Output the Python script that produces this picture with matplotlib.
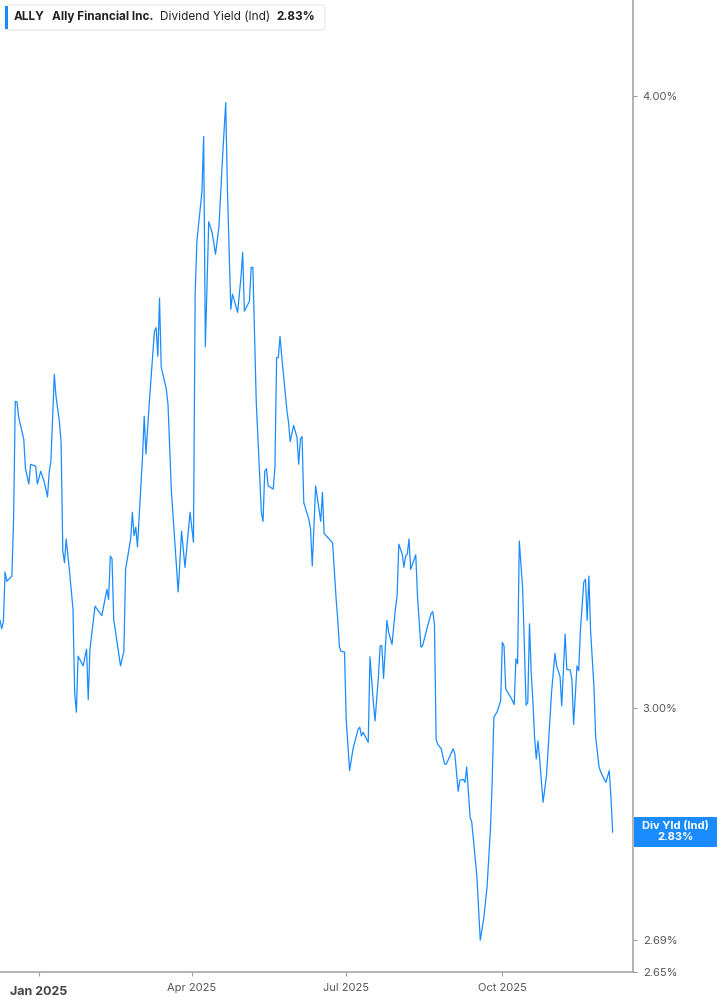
# ALLY - dividend yield (Ind), linha diária com eixo log à direita

import matplotlib
matplotlib.use('Agg')
import matplotlib.pyplot as plt
import matplotlib.dates as mdates
from matplotlib.patches import FancyBboxPatch, Rectangle
from matplotlib.ticker import FixedLocator, NullLocator
import pandas as pd

plt.rcParams['font.family'] = ['Inter', 'DejaVu Sans']

ticker = 'ALLY'
company = 'Ally Financial Inc.'
metric = 'Dividend Yield (Ind)'
metric_short = 'Div Yld (Ind)'

dates = [
    '2024-12-09', '2024-12-10', '2024-12-11', '2024-12-12', '2024-12-13', '2024-12-16', '2024-12-17',
    '2024-12-18', '2024-12-19', '2024-12-20', '2024-12-23', '2024-12-24', '2024-12-26', '2024-12-27',
    '2024-12-30', '2024-12-31', '2025-01-02', '2025-01-04', '2025-01-06', '2025-01-07', '2025-01-08',
    '2025-01-10', '2025-01-11', '2025-01-13', '2025-01-14', '2025-01-15', '2025-01-16', '2025-01-17',
    '2025-01-19', '2025-01-21', '2025-01-22', '2025-01-23', '2025-01-24', '2025-01-27', '2025-01-29',
    '2025-01-30', '2025-01-31', '2025-02-03', '2025-02-07', '2025-02-10', '2025-02-11', '2025-02-12',
    '2025-02-13', '2025-02-14', '2025-02-18', '2025-02-20', '2025-02-21', '2025-02-24', '2025-02-25',
    '2025-02-26', '2025-02-27', '2025-02-28', '2025-03-03', '2025-03-04', '2025-03-05', '2025-03-07',
    '2025-03-10', '2025-03-11', '2025-03-12', '2025-03-13', '2025-03-14', '2025-03-17', '2025-03-18',
    '2025-03-20', '2025-03-24', '2025-03-26', '2025-03-28', '2025-03-31', '2025-04-02', '2025-04-03',
    '2025-04-04', '2025-04-07', '2025-04-08', '2025-04-09', '2025-04-11', '2025-04-13', '2025-04-15',
    '2025-04-17', '2025-04-19', '2025-04-21', '2025-04-22', '2025-04-24', '2025-04-25', '2025-04-28',
    '2025-04-30', '2025-05-01', '2025-05-02', '2025-05-05', '2025-05-06', '2025-05-07', '2025-05-09',
    '2025-05-12', '2025-05-13', '2025-05-14', '2025-05-15', '2025-05-16', '2025-05-19', '2025-05-20',
    '2025-05-21', '2025-05-22', '2025-05-23', '2025-05-24', '2025-05-27', '2025-05-28', '2025-05-29',
    '2025-05-31', '2025-06-02', '2025-06-03', '2025-06-04', '2025-06-05', '2025-06-06', '2025-06-09',
    '2025-06-10', '2025-06-11', '2025-06-13', '2025-06-16', '2025-06-17', '2025-06-18', '2025-06-21',
    '2025-06-23', '2025-06-25', '2025-06-26', '2025-06-27', '2025-06-28', '2025-06-30', '2025-07-01',
    '2025-07-03', '2025-07-05', '2025-07-08', '2025-07-09', '2025-07-10', '2025-07-11', '2025-07-14',
    '2025-07-15', '2025-07-17', '2025-07-18', '2025-07-20', '2025-07-21', '2025-07-22', '2025-07-23',
    '2025-07-25', '2025-07-26', '2025-07-28', '2025-07-30', '2025-07-31', '2025-08-01', '2025-08-03',
    '2025-08-04', '2025-08-05', '2025-08-06', '2025-08-07', '2025-08-08', '2025-08-11', '2025-08-12',
    '2025-08-14', '2025-08-15', '2025-08-18', '2025-08-20', '2025-08-21', '2025-08-22', '2025-08-23',
    '2025-08-24', '2025-08-26', '2025-08-28', '2025-08-29', '2025-09-02', '2025-09-03', '2025-09-05',
    '2025-09-06', '2025-09-08', '2025-09-09', '2025-09-10', '2025-09-12', '2025-09-13', '2025-09-16',
    '2025-09-18', '2025-09-20', '2025-09-22', '2025-09-24', '2025-09-25', '2025-09-26', '2025-09-28',
    '2025-09-30', '2025-10-01', '2025-10-02', '2025-10-03', '2025-10-06', '2025-10-08', '2025-10-09',
    '2025-10-10', '2025-10-11', '2025-10-13', '2025-10-15', '2025-10-16', '2025-10-17', '2025-10-18',
    '2025-10-19', '2025-10-20', '2025-10-21', '2025-10-22', '2025-10-23', '2025-10-25', '2025-10-27',
    '2025-10-28', '2025-10-30', '2025-11-01', '2025-11-02', '2025-11-04', '2025-11-05', '2025-11-07',
    '2025-11-08', '2025-11-10', '2025-11-11', '2025-11-12', '2025-11-14', '2025-11-15', '2025-11-16',
    '2025-11-18', '2025-11-19', '2025-11-20', '2025-11-21', '2025-11-22', '2025-11-24', '2025-11-25',
    '2025-11-27', '2025-11-28', '2025-12-01', '2025-12-03', '2025-12-04', '2025-12-05',
]

# yield em %
yield_pct = [
    3.126, 3.114, 3.124, 3.198, 3.184, 3.192, 3.278, 3.465, 3.464, 3.439, 3.404, 3.357, 3.333, 3.364,
    3.361, 3.333, 3.353, 3.337, 3.313, 3.352, 3.369, 3.509, 3.473, 3.432, 3.399, 3.230, 3.212, 3.248,
    3.198, 3.143, 3.022, 2.994, 3.074, 3.060, 3.084, 3.012, 3.084, 3.147, 3.133, 3.172, 3.157, 3.222,
    3.218, 3.128, 3.060, 3.081, 3.202, 3.248, 3.289, 3.253, 3.266, 3.236, 3.377, 3.441, 3.380, 3.464,
    3.581, 3.587, 3.539, 3.637, 3.521, 3.485, 3.460, 3.321, 3.168, 3.260, 3.205, 3.289, 3.243, 3.644,
    3.735, 3.824, 3.924, 3.555, 3.770, 3.751, 3.713, 3.761, 3.878, 3.987, 3.828, 3.618, 3.644, 3.613,
    3.673, 3.716, 3.615, 3.632, 3.690, 3.690, 3.464, 3.289, 3.275, 3.353, 3.357, 3.330, 3.325, 3.359,
    3.537, 3.537, 3.572, 3.539, 3.452, 3.431, 3.400, 3.426, 3.407, 3.364, 3.404, 3.408, 3.304, 3.278,
    3.263, 3.207, 3.330, 3.275, 3.320, 3.256, 3.248, 3.242, 3.160, 3.128, 3.087, 3.081, 3.080, 2.984,
    2.913, 2.943, 2.970, 2.973, 2.961, 2.966, 2.952, 3.073, 3.008, 2.982, 3.045, 3.089, 3.089, 3.042,
    3.126, 3.109, 3.091, 3.143, 3.162, 3.240, 3.225, 3.205, 3.222, 3.225, 3.248, 3.202, 3.224, 3.162,
    3.087, 3.089, 3.118, 3.136, 3.139, 3.121, 2.956, 2.949, 2.943, 2.922, 2.922, 2.943, 2.936, 2.885,
    2.900, 2.901, 2.897, 2.918, 2.850, 2.843, 2.772, 2.690, 2.717, 2.758, 2.834, 2.897, 2.987, 2.995,
    3.010, 3.094, 3.089, 3.027, 3.015, 3.005, 3.070, 3.063, 3.245, 3.172, 3.004, 3.008, 3.121, 3.051,
    3.010, 2.959, 2.929, 2.954, 2.929, 2.870, 2.906, 2.943, 3.022, 3.078, 3.060, 3.045, 3.003, 3.106,
    3.055, 3.054, 3.041, 2.977, 3.060, 3.053, 3.111, 3.183, 3.187, 3.126, 3.192, 3.111, 3.030, 2.959,
    2.918, 2.911, 2.897, 2.913, 2.877, 2.830,
]

y_ticks = [2.65, 2.69, 3.00, 4.00]
x_ticks = ['2025-01-01', '2025-04-01', '2025-07-01', '2025-10-01']
x_tick_labels = ['Jan 2025', 'Apr 2025', 'Jul 2025', 'Oct 2025']

blue = '#1a8cff'
gray = '#9e9e9e'

x = pd.to_datetime(dates)

fig = plt.figure(figsize=(7.17, 10.05), dpi=100)
ax = fig.add_axes([0.0, 0.0328, 633 / 717, 1 - 0.0328])

ax.plot(x, yield_pct, color=blue, lw=0.9)

ax.set_yscale('log')
ax.set_ylim(2.65, 4.184)
ax.set_xlim(pd.Timestamp('2024-12-09'), pd.Timestamp('2025-12-17'))

ax.yaxis.set_major_locator(FixedLocator(y_ticks))
ax.yaxis.set_minor_locator(NullLocator())
ax.set_yticklabels(['%.2f%%' % v for v in y_ticks])
ax.yaxis.tick_right()
ax.tick_params(axis='y', which='both', direction='out', length=3, width=0.8,
               colors=gray, labelcolor='#555555', labelsize=8, pad=4)

ax.set_xticks(pd.to_datetime(x_ticks))
ax.set_xticklabels(x_tick_labels)
ax.xaxis.set_minor_locator(NullLocator())
ax.tick_params(axis='x', direction='out', length=3, width=0.8, colors=gray,
               labelcolor='#555555', labelsize=8, pad=5)
lbls = ax.get_xticklabels()
lbls[0].set_fontweight('bold')
lbls[0].set_fontsize(9)
lbls[0].set_color('#444444')
lbls[0].set_y(-0.003)

for s in ['left', 'top']:
    ax.spines[s].set_visible(False)
for s in ['right', 'bottom']:
    ax.spines[s].set_color(gray)
    ax.spines[s].set_linewidth(1.1)

# caixa do título
box = FancyBboxPatch((5 / 717, 1 - 30 / 1005), 320 / 717, 25 / 1005,
                     boxstyle='round,pad=0,rounding_size=0.004',
                     transform=fig.transFigure, fc='white', ec='#e6e6e6', lw=0.8)
fig.patches.append(box)
fig.patches.append(Rectangle((5 / 717, 1 - 29 / 1005), 3 / 717, 23 / 1005,
                             transform=fig.transFigure, fc=blue, ec='none'))
ty = 1 - 17 / 1005
fig.text(14 / 717, ty, ticker, fontsize=8.5, fontweight='bold', color='#222222', va='center')
fig.text(52 / 717, ty, company, fontsize=8.5, fontweight='bold', color='#222222', va='center')
fig.text(160 / 717, ty, metric, fontsize=8.5, color='#222222', va='center')
fig.text(276 / 717, ty, '%.2f%%' % yield_pct[-1], fontsize=8.5, fontweight='bold',
         color='#222222', va='center')

# etiqueta do último valor
last_disp = ax.transData.transform((mdates.date2num(x[-1]), yield_pct[-1]))
yf = fig.transFigure.inverted().transform(last_disp)[1]
fig.patches.append(Rectangle((634 / 717, yf - 15 / 1005), 83 / 717, 30 / 1005,
                             transform=fig.transFigure, fc=blue, ec='none'))
fig.text(675 / 717, yf + 6 / 1005, metric_short, fontsize=8, fontweight='bold',
         color='white', ha='center', va='center')
fig.text(675 / 717, yf - 5 / 1005, '%.2f%%' % yield_pct[-1], fontsize=8, fontweight='bold',
         color='white', ha='center', va='center')

fig.savefig('out.png', dpi=100)
